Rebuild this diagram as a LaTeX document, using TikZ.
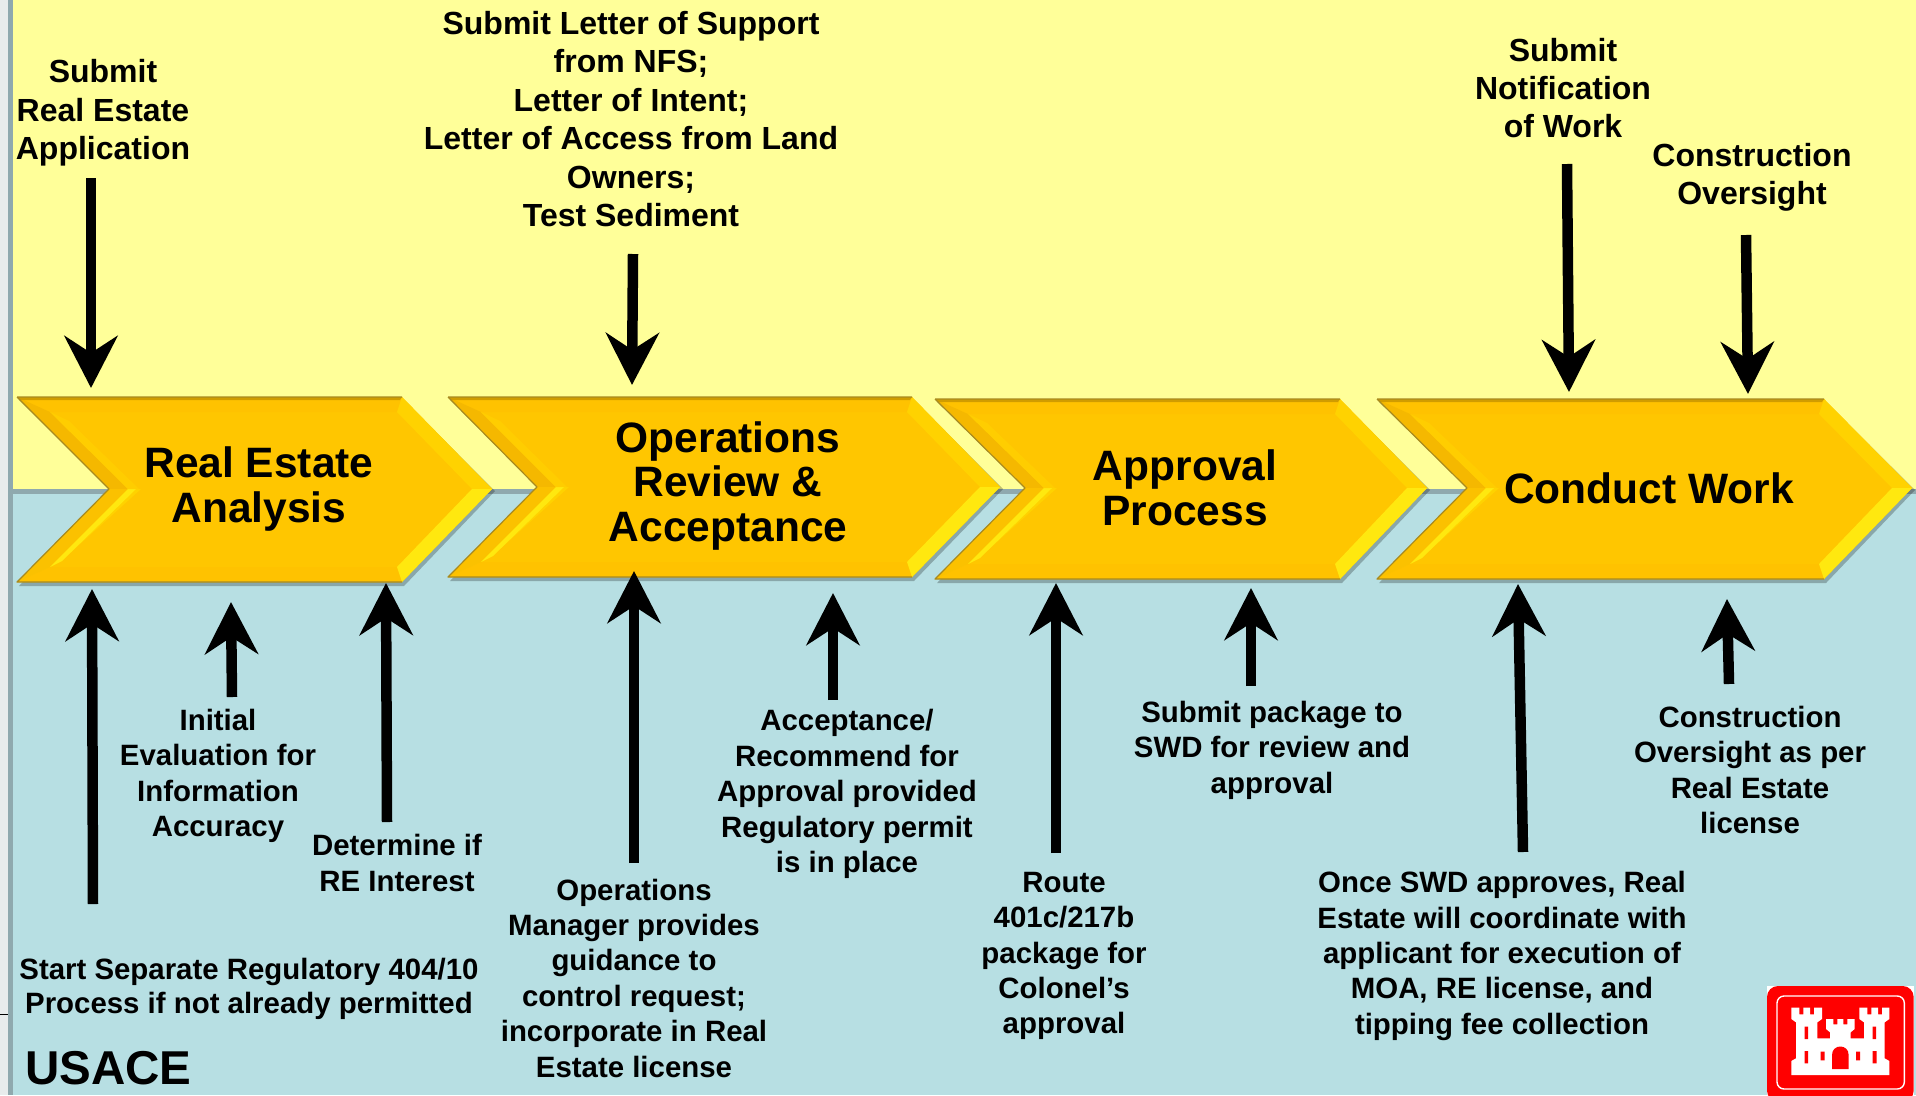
\documentclass[tikz,border=0pt]{standalone}
\usepackage{fontspec}
\setmainfont{Liberation Sans}
\usetikzlibrary{arrows.meta,calc}
\definecolor{topyellow}{HTML}{FFFF99}
\definecolor{lowblue}{HTML}{B7DFE3}
\definecolor{bandgrey}{HTML}{8FA9AE}
\definecolor{stripgrey}{HTML}{E8ECEC}
\definecolor{chevmain}{HTML}{FFC600}
\definecolor{chevdark}{HTML}{F5B800}
\definecolor{chevstrip}{HTML}{FFC200}
\definecolor{chevupper}{HTML}{FFD200}
\definecolor{chevlight}{HTML}{FFE80F}
\definecolor{chevedge}{HTML}{A88A20}
\definecolor{logored}{HTML}{FF0000}
\tikzset{
  x=1pt,y=-1pt,
  bigarrow/.style={draw=black,line width=10.5pt,-{Stealth[length=52pt,width=53pt,inset=17pt]}},
  notelarge/.style={font=\fontsize{32}{38.4}\selectfont\bfseries,align=center,inner sep=0pt},
  notesmall/.style={font=\fontsize{29.4}{35.4}\selectfont\bfseries,align=center,inner sep=0pt},
  chevtext/.style={font=\fontsize{42.5}{44.5}\selectfont\bfseries,align=center,inner sep=0pt},
}
% #1 xl, #2 xnotch, #3 xr, #4 xtip, #5 top, #6 mid, #7 bot
\newcommand{\chevshape}[7]{%
  \fill[black,opacity=.25] (#1+2,#5+3) -- (#3+2,#5+3) -- (#4+3,#6+2) -- (#3+2,#7+4) -- (#1+2,#7+4) -- (#2+3,#6+2) -- cycle;
  \fill[chevmain] (#1,#5) -- (#3,#5) -- (#4,#6) -- (#3,#7) -- (#1,#7) -- (#2,#6) -- cycle;
  % top and bottom strips
  \fill[chevstrip] (#1,#5) -- (#3,#5) -- (#3-5,#5+15) -- (#1+33,#5+15) -- cycle;
  \fill[chevstrip] (#1,#7) -- (#3,#7) -- (#3-5,#7-15) -- (#1+33,#7-15) -- cycle;
  % right facets
  \fill[chevupper] (#3,#5) -- (#4,#6) -- (#4-20,#6) -- (#3-5,#5+15) -- cycle;
  \fill[chevlight] (#4,#6) -- (#3,#7) -- (#3-5,#7-15) -- (#4-20,#6) -- cycle;
  % left facets
  \fill[chevdark] (#1,#5) -- (#2,#6) -- (#2+19,#6) -- (#1+33,#5+15) -- cycle;
  \fill[chevdark!40!chevmain] (#1,#7) -- (#2,#6) -- (#2+19,#6) -- (#1+33,#7-15) -- cycle;
  % highlights on the left facets
  \fill[chevupper] (#2+19,#6) -- (#2+32,#6) -- (#1+52,#7-28) -- (#1+33,#7-15) -- cycle;
  \fill[chevlight] (#2+19,#6) -- (#2+27,#6) -- (#1+45,#7-21) -- (#1+33,#7-15) -- cycle;
  \fill[chevupper!60!chevmain] (#2+19,#6) -- (#2+30,#6) -- (#1+52,#5+24) -- (#1+33,#5+15) -- cycle;
  % edge lines
  \fill[chevdark!85!black] (#1,#5) -- (#3,#5) -- (#3-2,#5+3) -- (#1+3,#5+3) -- cycle;
  \draw[chevedge,line width=1.2pt,line join=round] (#1,#5) -- (#3,#5) (#3,#7) -- (#1,#7) -- (#2,#6) -- (#1,#5);
}
\begin{document}
\begin{tikzpicture}
\useasboundingbox (0,0) rectangle (1916,1095);
% background
\fill[stripgrey] (0,0) rectangle (9,1095);
\fill[topyellow] (12,0) rectangle (1916,489);
\fill[lowblue] (12,494) rectangle (1916,1095);
\fill[bandgrey] (8,489) rectangle (1916,494);
\fill[bandgrey] (7.5,0) rectangle (12.5,1095);
\fill[black] (0,1013.5) rectangle (8,1015);
% chevrons
\chevshape{17}{109}{402}{492}{397}{489}{582}
\chevshape{448}{537}{912}{1000}{397}{487}{577}
\chevshape{935}{1025}{1340}{1427}{399}{488}{579}
\chevshape{1377}{1467}{1824}{1912}{399}{488}{579}
\node[chevtext] (c1) at (259,489) {Real Estate\\Analysis};
\node[chevtext] (c2) at (728,486) {Operations\\Review \&\\Acceptance};
\node[chevtext] (c3) at (1185,488) {Approval\\Process};
\node[chevtext] (c4) at (1649,488) {Conduct Work};
% texts
\node[notelarge] (t1) at (103,113) {Submit\\Real Estate\\Application};
\node[notelarge] (t2) at (631,119) {Submit Letter of Support\\from NFS;\\Letter of Intent;\\Letter of Access from Land\\Owners;\\Test Sediment};
\node[notelarge] (t3) at (1563,88) {Submit\\Notification\\of Work};
\node[notelarge] (t4) at (1752,177) {Construction\\Oversight};
\node[notesmall] (b1) at (218,776) {Initial\\Evaluation for\\Information\\Accuracy};
\node[notesmall] (b2) at (397,863) {Determine if\\RE Interest};
\node[notesmall,font=\fontsize{29.4}{34.4}\selectfont\bfseries] (b3) at (249,989) {Start Separate Regulatory 404/10\\Process if not already permitted};
\node[notesmall] (b4) at (634,978) {Operations\\Manager provides\\guidance to\\control request;\\incorporate in Real\\Estate license};
\node[notesmall] (b5) at (847,794) {Acceptance/\\Recommend for\\Approval provided\\Regulatory permit\\is in place};
\node[notesmall] (b6) at (1064,956) {Route\\401c/217b\\package for\\Colonel’s\\approval};
\node[notesmall] (b7) at (1272,750) {Submit package to\\SWD for review and\\approval};
\node[notesmall] (b8) at (1502,956) {Once SWD approves, Real\\Estate will coordinate with\\applicant for execution of\\MOA, RE license, and\\tipping fee collection};
\node[notesmall] (b9) at (1750,770) {Construction\\Oversight as per\\Real Estate\\license};
\node[font=\fontsize{47.5}{50}\selectfont\bfseries,inner sep=0pt,anchor=base west] (usace) at (25,1084) {USACE};
% connector ends
\coordinate (s1) at (91,178); \coordinate (e1) at (91,388);
\coordinate (s2) at (633,254); \coordinate (e2) at (632,385);
\coordinate (s3) at (1567,164); \coordinate (e3) at (1569,392);
\coordinate (s4) at (1746,235); \coordinate (e4) at (1748,394);
\coordinate (s5) at (93,904); \coordinate (e5) at (92,589);
\coordinate (s6) at (232,697); \coordinate (e6) at (231,602);
\coordinate (s7) at (387,822); \coordinate (e7) at (386,583);
\coordinate (s8) at (634,863); \coordinate (e8) at (634,571);
\coordinate (s9) at (833,700); \coordinate (e9) at (833,593);
\coordinate (s10) at (1056,853); \coordinate (e10) at (1056,583);
\coordinate (s11) at (1251,686); \coordinate (e11) at (1251,588);
\coordinate (s12) at (1523,852); \coordinate (e12) at (1518,584);
\coordinate (s13) at (1729,684); \coordinate (e13) at (1727,599);
\foreach \i in {1,...,13} {\draw[bigarrow] (s\i) -- (e\i);}
% logo
\begin{scope}[shift={(1716,945)},x=0.3333pt,y=-0.3333pt]
\fill[white] (153,123) rectangle (593,450);
\fill[logored,rounded corners=11pt] (153,123) rectangle (593,470);
\draw[white,line width=1.4pt,rounded corners=7pt] (183,153) rectangle (565,432);
\fill[white] (226,390) -- (226,348) -- (240,340) -- (240,232) -- (226,222) -- (226,188) -- (250,188) -- (250,208) -- (262,208) -- (262,188) -- (282,188) -- (282,208) -- (294,208) -- (294,188) -- (318,188) -- (318,222) -- (304,232) -- (304,280) -- (342,280) -- (342,262) -- (330,252) -- (330,222) -- (352,222) -- (352,238) -- (364,238) -- (364,222) -- (382,222) -- (382,238) -- (394,238) -- (394,222) -- (416,222) -- (416,252) -- (404,262) -- (404,280) -- (444,280) -- (444,232) -- (430,222) -- (430,188) -- (454,188) -- (454,208) -- (466,208) -- (466,188) -- (486,188) -- (486,208) -- (498,208) -- (498,188) -- (520,188) -- (520,222) -- (506,232) -- (506,340) -- (520,348) -- (520,390) -- cycle;
\fill[logored] (266,245) rectangle (276,282) (470,245) rectangle (480,282) (266,318) rectangle (276,355) (470,318) rectangle (482,355) (314,320) rectangle (326,346) (420,320) rectangle (432,346);
\fill[logored] (348,372) -- (348,330) .. controls (348,296) and (398,296) .. (398,330) -- (398,372) -- cycle;
\end{scope}
\end{tikzpicture}
\end{document}
